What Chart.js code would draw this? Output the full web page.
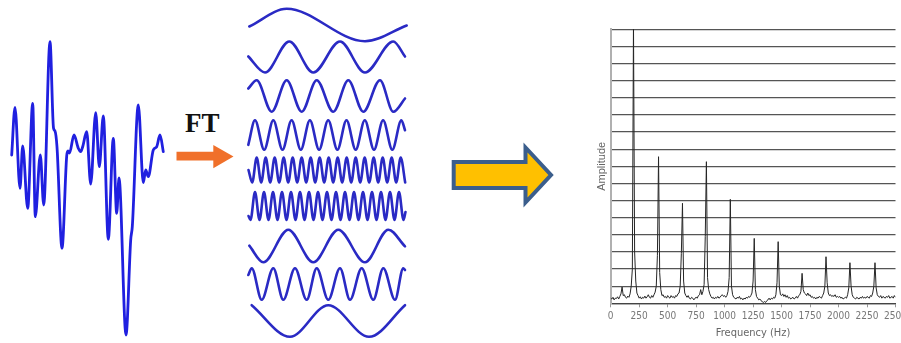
<!DOCTYPE html>
<html>
<head>
<meta charset="utf-8">
<script src="https://cdn.jsdelivr.net/npm/chart.js@4.4.1/dist/chart.umd.min.js"></script>
<style>
  html, body { margin:0; padding:0; background:#fff; }
  body { width:901px; height:343px; overflow:hidden; position:relative; }
  canvas, svg { position:absolute; }
</style>
</head>
<body>
<svg id="deco" width="901" height="343" style="left:0;top:0">
  <text x="185" y="131.5" font-family="'Liberation Serif','Times New Roman',serif" font-weight="bold" font-size="27" fill="#111">FT</text>
  <polygon points="176.5,151.7 213.3,151.7 213.3,145 233.5,156.5 213.3,168.3 213.3,160.5 176.5,160.5" fill="#f0702a"/>
  <polygon points="453.7,162 525.5,162 525.5,147.5 551,175 525.5,202.5 525.5,188 453.7,188" fill="#ffc000" stroke="#3b5e8c" stroke-width="4"/>
</svg>
<script>
// ---------- DATA ----------
// Time-domain signal (time, amplitude)
const signalSamples = [[11.7,0],[15,47.7],[20,-33.3],[22.7,9],[27.7,-53.3],[32.7,51.7],[35.3,-61.7],[40.3,0],[43.7,-50],[50,113.3],[53.5,27],[55,24],[57,8],[62,-93.3],[66.7,-1],[68,4],[69.5,2],[74,20],[78.3,6.7],[80.7,3.3],[82.7,8.3],[86.7,23.3],[90.7,-29],[95.7,42.3],[99.3,-11.7],[103.3,39],[108.3,-84.3],[113.3,16.7],[116.7,-58.3],[119,-23],[126,-180],[130.7,-85],[132.3,-71.7],[138.3,50],[143.3,-27.7],[145.7,-15],[148.3,-21.7],[153.3,5],[156.7,8.3],[160,20],[163.3,3.3]];

// Component sinusoids (time, amplitude) – extrema
const comp1 = [[1.3,-1.5],[38.7,16.2],[117,-16.2],[158.7,-0.5]];
const comp2 = [[0.3,0.5],[17,-15.5],[41.3,15.5],[65.3,-15.5],[92,15.5],[117,-15.5],[145.3,15.5],[157,0.5]];
const comp3 = [[0.3,7.5],[8.7,15.8],[23.7,-15.8],[38.7,15.8],[53.7,-15.8],[68.7,15.8],[85.3,-15.8],[100.3,15.8],[115.3,-15.8],[132,15.8],[145.3,-15.8],[157,-2.5]];
const comp4 = [[0.3,-9.8],[7,14.7],[16.2,-14.7],[25.3,14.7],[34.5,-14.7],[43.6,14.7],[52.8,-14.7],[61.9,14.7],[71.1,-14.7],[80.2,14.7],[89.4,-14.7],[98.5,14.7],[107.7,-14.7],[116.8,14.7],[126,-14.7],[135.1,14.7],[144.3,-14.7],[153.4,14.7],[157,4.8]];
const comp5 = [[0.5,0],[4.2,-12.5],[8.7,12.5],[13.2,-12.5],[17.7,12.5],[22.2,-12.5],[26.7,12.5],[31.2,-12.5],[35.7,12.5],[40.2,-12.5],[44.7,12.5],[49.2,-12.5],[53.7,12.5],[58.2,-12.5],[62.7,12.5],[67.2,-12.5],[71.7,12.5],[76.2,-12.5],[80.7,12.5],[85.2,-12.5],[89.7,12.5],[94.2,-12.5],[98.7,12.5],[103.2,-12.5],[107.7,12.5],[112.2,-12.5],[116.7,12.5],[121.2,-12.5],[125.7,12.5],[130.2,-12.5],[134.7,12.5],[139.2,-12.5],[143.7,12.5],[148.2,-12.5],[152.7,12.5],[157.2,-12.5]];
const comp6 = [[0.5,-10],[2.5,-14],[7,14],[11.5,-14],[16,14],[20.5,-14],[25,14],[29.5,-14],[34,14],[38.5,-14],[43,14],[47.5,-14],[52,14],[56.5,-14],[61,14],[65.5,-14],[70,14],[74.5,-14],[79,14],[83.5,-14],[88,14],[92.5,-14],[97,14],[101.5,-14],[106,14],[110.5,-14],[115,14],[119.5,-14],[124,14],[128.5,-14],[133,14],[137.5,-14],[142,14],[146.5,-14],[151,14],[155.5,-14],[157.5,-6]];
const comp7 = [[1.3,0.3],[15.3,-16.3],[40.3,16.3],[65.3,-16.3],[90.3,16.3],[117,-16.3],[140.3,16.3],[157,-0.4]];
const comp8 = [[0.3,9],[3.7,15.8],[13.7,-15.8],[25.3,15.8],[35.3,-15.8],[47,15.8],[58.7,-15.8],[68.7,15.8],[80.3,-15.8],[92,15.8],[102,-15.8],[113.7,15.8],[125.3,-15.8],[135.3,15.8],[147,-15.8],[155.3,15.8],[157,14]];
const comp9 = [[3.7,15.8],[42,-15.8],[80.3,15.8],[121,-15.8],[157,15.8]];
const components = [comp1, comp2, comp3, comp4, comp5, comp6, comp7, comp8, comp9];

// Spectrum: amplitude per 10 Hz bin, 0 .. 2500 Hz
const binHz = 10;
const spectrumAmp = [
  0.3,0.25,0.35,0.2,0.3,0.28,0.38,0.25,0.4,0.55,
  0.95,0.45,0.5,0.35,0.3,0.42,0.35,0.55,1.0,2.0,
  16.3,3.0,1.3,0.6,0.45,0.3,0.38,0.25,0.35,0.3,
  0.42,0.3,0.38,0.5,0.35,0.3,0.45,0.35,0.5,0.65,
  1.0,2.8,8.56,1.8,0.8,0.45,0.5,0.35,0.4,0.3,
  0.45,0.35,0.3,0.45,0.35,0.4,0.3,0.45,0.4,0.55,
  0.6,1.0,2.9,5.84,1.3,0.6,0.45,0.35,0.45,0.3,
  0.25,0.35,0.3,0.2,0.3,0.35,0.3,0.45,0.5,0.8,
  0.5,0.7,1.1,3.9,8.27,1.5,0.8,0.55,0.4,0.3,
  0.35,0.25,0.35,0.3,0.4,0.3,0.35,0.45,0.5,0.4,
  0.45,0.35,0.45,0.7,1.5,6.07,1.0,0.5,0.35,0.3,
  0.25,0.35,0.3,0.4,0.25,0.3,0.2,0.3,0.25,0.35,
  0.3,0.4,0.35,0.45,0.6,1.3,3.79,0.8,0.4,0.3,
  0.2,0.25,0.15,0.1,0.05,0.1,0.05,0.15,0.2,0.3,
  0.2,0.3,0.25,0.35,0.3,0.5,1.2,3.6,1.0,0.5,
  0.45,0.55,0.4,0.5,0.35,0.45,0.3,0.35,0.25,0.3,
  0.35,0.25,0.3,0.4,0.3,0.45,0.5,0.7,1.75,0.8,
  0.6,0.55,0.45,0.6,0.45,0.5,0.35,0.4,0.3,0.35,
  0.25,0.35,0.3,0.4,0.35,0.3,0.45,0.6,1.0,2.72,
  1.2,0.6,0.45,0.5,0.4,0.45,0.4,0.5,0.35,0.4,
  0.35,0.4,0.3,0.35,0.25,0.3,0.35,0.3,0.5,0.9,
  2.37,1.0,0.5,0.35,0.3,0.25,0.35,0.3,0.25,0.35,
  0.3,0.4,0.3,0.35,0.3,0.4,0.35,0.3,0.45,0.4,
  0.6,1.0,2.37,0.9,0.5,0.4,0.35,0.45,0.3,0.4,
  0.35,0.3,0.4,0.35,0.45,0.3,0.35,0.4,0.3,0.45,
  0.35
];
const freqTickStep = 250;
const freqMax = 2500;
const ampMax = 16;
const xTitle = 'Frequency (Hz)';
const yTitle = 'Amplitude';

// ---------- LAYOUT ----------
const componentCenters = [24.5, 57.2, 95.8, 134.7, 169.5, 206, 246.3, 284.2, 321];

function addCanvas(left, top, w, h) {
  const c = document.createElement('canvas');
  c.width = w; c.height = h;
  c.style.left = left + 'px'; c.style.top = top + 'px';
  c.style.width = w + 'px'; c.style.height = h + 'px';
  document.body.appendChild(c);
  return c;
}

function curveChart(canvas, pts, xr, yr, color, width) {
  return new Chart(canvas, {
    type: 'line',
    data: { datasets: [{
      data: pts.map(p => ({x: p[0], y: p[1]})),
      borderColor: color, borderWidth: width, pointRadius: 0,
      cubicInterpolationMode: 'monotone', fill: false, clip: false,
      borderCapStyle: 'round', borderJoinStyle: 'round'
    }]},
    options: {
      responsive: false, animation: false, events: [],
      layout: { padding: 0 },
      plugins: { legend: { display: false }, tooltip: { enabled: false } },
      scales: {
        x: { type: 'linear', display: false, min: xr[0], max: xr[1] },
        y: { type: 'linear', display: false, min: yr[0], max: yr[1] }
      }
    }
  });
}

// Left time signal
curveChart(addCanvas(0, 30, 175, 313), signalSamples, [0, 175], [-188, 125], '#2020e0', 2.8);

// Component sinusoids
components.forEach((pts, i) => {
  const c = addCanvas(240, componentCenters[i] - 22, 180, 44);
  curveChart(c, pts, [-8, 172], [-22, 22], '#2a2ac4', 2.6);
});

// Spectrum
const narrow = "'Liberation Sans Narrow','DejaVu Sans Condensed','Liberation Sans',sans-serif";
const specCanvas = addCanvas(590, 20, 311, 323);
new Chart(specCanvas, {
  type: 'line',
  data: { datasets: [{
    data: spectrumAmp.map((a, i) => ({x: i * binHz, y: a})),
    borderColor: '#262626', borderWidth: 1, pointRadius: 0, tension: 0, fill: false
  }]},
  options: {
    responsive: false, animation: false, events: [],
    layout: { padding: { left: 0, right: 5.5, top: 9.3, bottom: 0 } },
    plugins: { legend: { display: false }, tooltip: { enabled: false } },
    scales: {
      x: {
        type: 'linear', min: 0, max: freqMax,
        ticks: { stepSize: freqTickStep, color: '#777', padding: 3, maxRotation: 0, autoSkip: false,
                 font: { family: narrow, size: 10 }, callback: v => String(v) },
        grid: { drawOnChartArea: false, drawTicks: true, tickLength: 4, color: '#999', lineWidth: 1 },
        border: { color: '#444', width: 1.3 },
        title: { display: true, text: xTitle, color: '#666', font: { family: narrow, size: 11 },
                 padding: { top: 0, bottom: 3.4 } },
        afterFit(s) { s.height = 39.7; s.paddingLeft = 0; s.paddingRight = 0; }
      },
      y: {
        type: 'linear', min: 0, max: ampMax,
        ticks: { stepSize: 1, display: false },
        grid: { color: '#555', lineWidth: 1.3, drawTicks: false },
        border: { color: '#b0b0b0', width: 2 },
        title: { display: true, text: yTitle, color: '#666',
                 font: { family: "'Liberation Sans',Arial,sans-serif", size: 11 },
                 padding: { top: 5, bottom: 0 } },
        afterFit(s) { s.width = 20.7; s.paddingTop = 0; s.paddingBottom = 0; }
      }
    }
  }
});
</script>
</body>
</html>
